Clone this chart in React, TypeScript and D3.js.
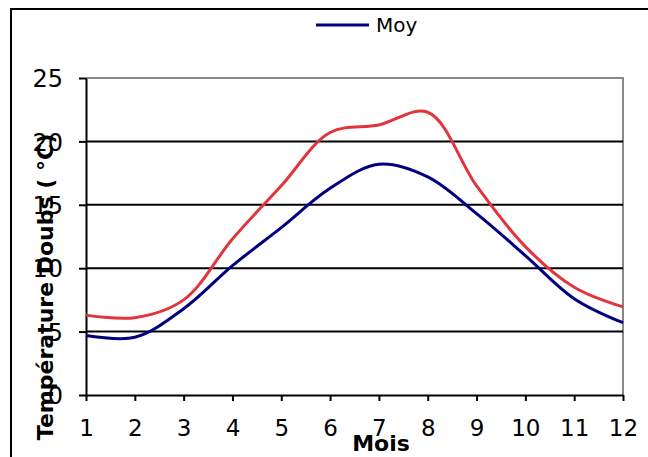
import React, { useEffect, useRef } from "react"
import * as d3 from "d3"

const months = [1, 2, 3, 4, 5, 6, 7, 8, 9, 10, 11, 12]
const moy = [4.7, 4.55, 6.8, 10.2, 13.2, 16.3, 18.2, 17.2, 14.3, 11.0, 7.6, 5.7]
const max = [6.3, 6.1, 7.5, 12.3, 16.5, 20.7, 21.3, 22.3, 16.5, 11.7, 8.5, 6.95]
const yTicks = [0, 5, 10, 15, 20, 25]
const legendLabel = "Moy"
const xTitle = "Mois"
const yTitle = "Température Doubs ( °C)"

const W = 648
const H = 457
const FONT = "'DejaVu Sans', Verdana, sans-serif"

export default function App() {
  const ref = useRef<SVGSVGElement>(null)

  useEffect(() => {
    if (!ref.current) return
    const svg = d3.select(ref.current)
    svg.selectAll("*").remove()

    const plot = { left: 86, right: 623, top: 78, bottom: 395 }

    const x = d3.scaleLinear().domain([1, 12]).range([plot.left, plot.right])
    const y = d3.scaleLinear().domain([0, 25]).range([plot.bottom, plot.top])

    svg.append("rect").attr("width", W).attr("height", H).attr("fill", "#fff")

    // outer chart frame (runs past the right and bottom edges)
    svg
      .append("rect")
      .attr("x", 11)
      .attr("y", 9)
      .attr("width", 700)
      .attr("height", 500)
      .attr("fill", "none")
      .attr("stroke", "#000")
      .attr("stroke-width", 2)

    // plot area border (top/right are grey)
    svg
      .append("path")
      .attr("d", `M${plot.left},${plot.top}H${plot.right}V${plot.bottom}`)
      .attr("fill", "none")
      .attr("stroke", "#888")
      .attr("stroke-width", 2)

    // gridlines
    svg
      .append("g")
      .selectAll("line")
      .data(yTicks.filter((t) => t > 0 && t < 25))
      .join("line")
      .attr("x1", plot.left)
      .attr("x2", plot.right)
      .attr("y1", (d) => y(d))
      .attr("y2", (d) => y(d))
      .attr("stroke", "#000")
      .attr("stroke-width", 2)

    // y axis
    const yAxis = svg
      .append("g")
      .attr("transform", `translate(${plot.left},0)`)
      .call(d3.axisLeft(y).tickValues(yTicks).tickSize(7).tickPadding(16).tickSizeOuter(0))
    yAxis.select(".domain").attr("stroke", "#000").attr("stroke-width", 2)
    yAxis.selectAll(".tick line").attr("stroke", "#000").attr("stroke-width", 2)
    yAxis
      .selectAll(".tick text")
      .attr("font-family", FONT)
      .attr("font-size", 24)
      .attr("fill", "#000")
      .attr("dy", "0.36em")

    // x axis
    const xAxis = svg
      .append("g")
      .attr("transform", `translate(0,${plot.bottom})`)
      .call(
        d3
          .axisBottom(x)
          .tickValues(months)
          .tickFormat(d3.format("d"))
          .tickSize(6)
          .tickPadding(19)
          .tickSizeOuter(0)
      )
    xAxis.select(".domain").attr("stroke", "#000").attr("stroke-width", 2)
    xAxis.selectAll(".tick line").attr("stroke", "#000").attr("stroke-width", 2)
    xAxis
      .selectAll(".tick text")
      .attr("font-family", FONT)
      .attr("font-size", 23)
      .attr("fill", "#000")

    const line = d3
      .line<number>()
      .x((_, i) => x(months[i]))
      .y((d) => y(d))
      .curve(d3.curveCatmullRom.alpha(0.5))

    svg
      .append("path")
      .datum(max)
      .attr("d", line)
      .attr("fill", "none")
      .attr("stroke", "#e2343c")
      .attr("stroke-width", 3)

    svg
      .append("path")
      .datum(moy)
      .attr("d", line)
      .attr("fill", "none")
      .attr("stroke", "#000080")
      .attr("stroke-width", 3)

    // legend
    svg
      .append("line")
      .attr("x1", 316)
      .attr("x2", 369)
      .attr("y1", 25)
      .attr("y2", 25)
      .attr("stroke", "#000080")
      .attr("stroke-width", 3)
    svg
      .append("text")
      .attr("x", 376)
      .attr("y", 32)
      .attr("font-family", FONT)
      .attr("font-size", 20)
      .text(legendLabel)

    // axis titles
    svg
      .append("text")
      .attr("x", 381)
      .attr("y", 451)
      .attr("text-anchor", "middle")
      .attr("font-family", FONT)
      .attr("font-weight", "bold")
      .attr("font-size", 22)
      .text(xTitle)

    svg
      .append("text")
      .attr("transform", `translate(53,287) rotate(-90)`)
      .attr("text-anchor", "middle")
      .attr("font-family", FONT)
      .attr("font-weight", "bold")
      .attr("font-size", 22)
      .text(yTitle)
  }, [])

  return (
    <svg
      ref={ref}
      width={W}
      height={H}
      style={{ position: "absolute", left: 0, top: 0, display: "block" }}
    />
  )
}
